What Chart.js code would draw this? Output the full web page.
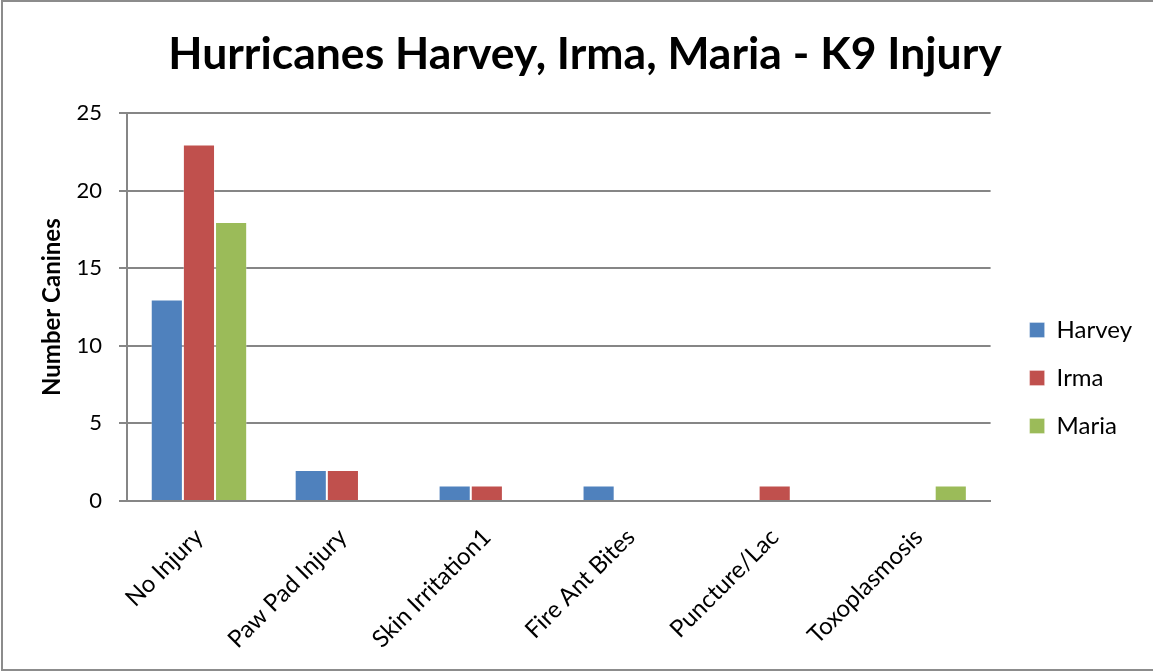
<!DOCTYPE html>
<html>
<head>
<meta charset="utf-8">
<script src="https://cdn.jsdelivr.net/npm/chart.js@4/dist/chart.umd.min.js"></script>
<style>
  html, body { margin: 0; padding: 0; background: #fff; }
  #wrap { position: absolute; left: 0; top: 0; width: 1153px; height: 672px; }
</style>
</head>
<body>
<div id="wrap"><canvas id="chart"></canvas></div>
<script>
// data
const categories = ['No Injury', 'Paw Pad Injury', 'Skin Irritation1', 'Fire Ant Bites', 'Puncture/Lac', 'Toxoplasmosis'];
const harvey = [13, 2, 1, 1, 0, 0];
const irma = [23, 2, 1, 0, 1, 0];
const maria = [18, 0, 0, 0, 0, 1];

const FONT = 'Lato, "Open Sans", sans-serif';
const GRID = '#868686';
const EDGE = 'rgba(255,255,255,0.3)';

// thin frame round the picture, like the exported chart
const framePlugin = {
    id: 'frame',
    afterDraw(chart) {
        const c = chart.ctx;
        c.save();
        c.strokeStyle = '#8c8c8c';
        c.lineWidth = 2;
        c.beginPath();
        c.moveTo(1153, 1);
        c.lineTo(2, 1);
        c.lineTo(2, 670);
        c.lineTo(1153, 670);
        c.stroke();
        c.restore();
    }
};

new Chart(document.getElementById('chart').getContext('2d'), {
    type: 'bar',
    data: {
        labels: categories,
        datasets: [
            { label: 'Harvey', data: harvey, backgroundColor: '#4F81BD' },
            { label: 'Irma', data: irma, backgroundColor: '#C0504D' },
            { label: 'Maria', data: maria, backgroundColor: '#9BBB59' }
        ]
    },
    options: {
        responsive: true,
        maintainAspectRatio: false,
        animation: false,
        datasets: {
            bar: { categoryPercentage: 0.67, barPercentage: 1, borderWidth: 1, borderColor: EDGE }
        },
        layout: { padding: { left: 28, right: 11, top: 20, bottom: 4 } },
        plugins: {
            title: {
                display: true,
                text: 'Hurricanes Harvey, Irma, Maria - K9 Injury',
                color: '#000',
                font: { family: FONT, size: 44.5, weight: 'bold' },
                padding: { top: 8, bottom: 32 }
            },
            legend: {
                position: 'right',
                title: {
                    display: true,
                    text: ' ',
                    font: { size: 10 },
                    padding: { top: 56, bottom: 0 }
                },
                labels: {
                    color: '#000',
                    font: { family: FONT, size: 24 },
                    boxWidth: 15,
                    boxHeight: 15,
                    padding: 24
                }
            },
            tooltip: { enabled: false }
        },
        scales: {
            x: {
                grid: { display: false },
                border: { color: GRID, width: 2 },
                ticks: {
                    color: '#000',
                    font: { family: FONT, size: 24 },
                    minRotation: 45,
                    maxRotation: 45,
                    padding: 14
                },
                // let the first slanted label run under the y axis labels
                afterFit(scale) { scale.paddingLeft = 0; }
            },
            y: {
                min: 0,
                max: 25,
                ticks: {
                    stepSize: 5,
                    color: '#000',
                    font: { family: FONT, size: 22 },
                    padding: 17
                },
                grid: { color: GRID, lineWidth: 2, tickLength: 8 },
                border: { color: GRID, width: 2 },
                title: {
                    display: true,
                    text: 'Number Canines',
                    color: '#000',
                    font: { family: FONT, size: 24, weight: 'bold' },
                    padding: { top: 10, bottom: 0 }
                },
                afterFit(scale) { scale.width = 99; }
            },
            // empty spacer between plot and legend
            gap: {
                position: 'right',
                grid: { display: false },
                border: { display: false },
                ticks: { display: false },
                afterFit(scale) { scale.width = 15; }
            }
        }
    },
    plugins: [framePlugin]
});
</script>
</body>
</html>
